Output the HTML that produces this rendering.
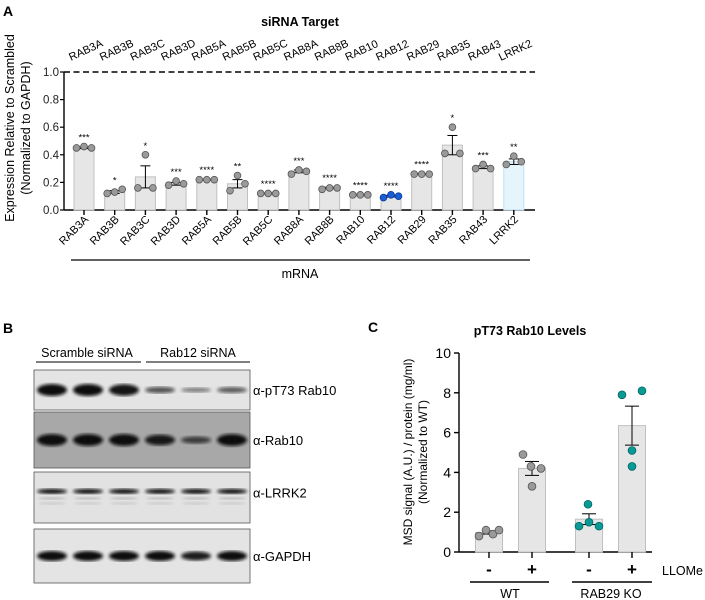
<!DOCTYPE html>
<html><head><meta charset="utf-8"><style>
body{margin:0;background:#fff;}
svg{display:block;font-family:"Liberation Sans",Arial,sans-serif;}
</style></head><body>
<svg id="fig" width="705" height="600" viewBox="0 0 705 600">
<defs>
<filter id="blur1"><feGaussianBlur stdDeviation="1.6"/></filter>
</defs>
<text x="3" y="16" font-size="14" font-weight="bold">A</text>
<text x="300" y="26" font-size="12.5" font-weight="bold" text-anchor="middle">siRNA Target</text>
<text transform="translate(14,128) rotate(-90)" font-size="12.5" text-anchor="middle">Expression Relative to Scrambled</text>
<text transform="translate(30,128) rotate(-90)" font-size="12.5" text-anchor="middle">(Normalized to GAPDH)</text>
<g id="chartA"></g>
<text x="300" y="278" font-size="12.5" text-anchor="middle">mRNA</text>
<line x1="71" y1="260" x2="530" y2="260" stroke="#000" stroke-width="1.2"/>

<text x="3" y="333" font-size="14" font-weight="bold">B</text>
<g id="blot"></g>

<text x="368" y="332" font-size="14" font-weight="bold">C</text>
<text x="530" y="335" font-size="12.5" font-weight="bold" text-anchor="middle">pT73 Rab10 Levels</text>
<text transform="translate(412,452) rotate(-90)" font-size="12" text-anchor="middle">MSD signal (A.U.) / protein (mg/ml)</text>
<text transform="translate(427,452) rotate(-90)" font-size="12" text-anchor="middle">(Normalized to WT)</text>
<g id="chartC"></g>
</svg>
<script>
const NS="http://www.w3.org/2000/svg";
function mk(p,t,a){const e=document.createElementNS(NS,t);for(const k in a)e.setAttribute(k,a[k]);p.appendChild(e);return e;}

// ---- Panel A data ----
const catsA=["RAB3A","RAB3B","RAB3C","RAB3D","RAB5A","RAB5B","RAB5C","RAB8A","RAB8B","RAB10","RAB12","RAB29","RAB35","RAB43","LRRK2"];
const meansA=[0.45,0.13,0.24,0.19,0.22,0.19,0.12,0.28,0.16,0.11,0.10,0.26,0.47,0.31,0.35];
const errA=[0.005,0.01,0.08,0.01,0.003,0.03,0.003,0.01,0.005,0.003,0.006,0.003,0.07,0.01,0.02];
const ptsA=[[0.45,0.46,0.45],[0.12,0.13,0.15],[0.16,0.40,0.16],[0.18,0.21,0.19],[0.22,0.22,0.22],[0.14,0.25,0.19],[0.12,0.12,0.12],[0.26,0.29,0.28],[0.15,0.16,0.16],[0.11,0.11,0.11],[0.09,0.11,0.10],[0.26,0.26,0.26],[0.41,0.60,0.41],[0.30,0.33,0.30],[0.33,0.39,0.35]];
const starsA=["***","*","*","***","****","**","****","***","****","****","****","****","*","***","**"];
const ticksA=[0,0.2,0.4,0.6,0.8,1.0];

const gA=document.getElementById("chartA");
const ax0=64, ay0=210, ay1=72;
const yA=v=>ay0-(ay0-ay1)*v;
const xA=i=>84+i*30.7;
const yax=mk(gA,"line",{x1:ax0,y1:ay1,x2:ax0,y2:ay0,stroke:"#000","stroke-width":1.4});


const xax=mk(gA,"line",{x1:ax0,y1:ay0,x2:535,y2:ay0,stroke:"#000","stroke-width":1.4});


const dl=mk(gA,"line",{x1:ax0,y1:yA(1),x2:535,y2:yA(1),stroke:"#000","stroke-width":1.6,"stroke-dasharray":"6,3.5"});


ticksA.forEach(t=>{
  mk(gA,"line",{x1:ax0-4,y1:yA(t),x2:ax0,y2:yA(t),stroke:"#000","stroke-width":1.2});
  const tx=mk(gA,"text",{x:ax0-5,y:yA(t)+4,"font-size":11.5,"text-anchor":"end",fill:"#222"});
  tx.textContent=t.toFixed(1);
  
  
});
catsA.forEach((c,i)=>{
  const cx=xA(i), isL=c==="LRRK2", isB=c==="RAB12";
  const b=mk(gA,"rect",{x:cx-10,y:yA(meansA[i]),width:20,height:ay0-yA(meansA[i]),fill:isL?"#e6f4fc":"#e6e6e6",stroke:isL?"#bfe1f5":"#c0c0c0","stroke-width":1});
  
  
  const m=meansA[i],e=errA[i];
  mk(gA,"line",{x1:cx,y1:yA(m+e),x2:cx,y2:yA(m-e),stroke:"#000","stroke-width":1});
  mk(gA,"line",{x1:cx-5,y1:yA(m+e),x2:cx+5,y2:yA(m+e),stroke:"#000","stroke-width":1});
  mk(gA,"line",{x1:cx-5,y1:yA(m-e),x2:cx+5,y2:yA(m-e),stroke:"#000","stroke-width":1});
  ptsA[i].forEach((p,j)=>{
    const d=mk(gA,"circle",{cx:cx+(j-1)*7.5,cy:yA(p),r:3.4,fill:isB?"#1a5ed6":"#9a9a9a",stroke:isB?"#0a3a9a":"#555","stroke-width":0.8});
    
    
  });
  const mx=Math.max(m+e,...ptsA[i]);
  const st=mk(gA,"text",{x:cx,y:yA(mx)-6,"font-size":9.5,"text-anchor":"middle"});
  st.textContent=starsA[i];
  
  
  mk(gA,"line",{x1:cx,y1:ay0,x2:cx,y2:ay0+5,stroke:"#000","stroke-width":1.4});
  const bl=mk(gA,"text",{transform:`translate(${cx+5},${ay0+10}) rotate(-45)`,"font-size":11,"text-anchor":"end"});
  bl.textContent=c;
  
  
  const tl=mk(gA,"text",{transform:`translate(${cx-13},${61}) rotate(-25)`,"font-size":11});
  tl.textContent=c;
  
  
});

// ---- Panel B blot ----
const gB=document.getElementById("blot");
const lanesX=[52,88,124,160,196,232];
const blotRows=[
 {name:"α-pT73 Rab10",y:370,h:40,bg:"#e4e4e4",int:[1,1,0.95,0.55,0.35,0.5],bw:6},
 {name:"α-Rab10",y:412,h:56,bg:"#a8a8a8",int:[1,1,1,0.9,0.6,1],bw:6},
 {name:"α-LRRK2",y:472,h:51,bg:"#e2e2e2",int:[1,1,1,1,1,1],bw:2.5},
 {name:"α-GAPDH",y:529,h:54,bg:"#e4e4e4",int:[1,1,1,1,0.9,1],bw:5}
];
let hl=mk(gB,"text",{x:87,y:357,"font-size":12.5,"text-anchor":"middle"});hl.textContent="Scramble siRNA";

hl=mk(gB,"text",{x:198,y:357,"font-size":12.5,"text-anchor":"middle"});hl.textContent="Rab12 siRNA";

mk(gB,"line",{x1:36,y1:362,x2:141,y2:362,stroke:"#000","stroke-width":1});
mk(gB,"line",{x1:146,y1:362,x2:250,y2:362,stroke:"#000","stroke-width":1});
blotRows.forEach(r=>{
  const p=mk(gB,"rect",{x:34,y:r.y,width:216,height:r.h,fill:r.bg,stroke:"#555","stroke-width":0.8});
  
  
  const cy=r.y+r.h*(r.name==="α-LRRK2"?0.38:0.5);
  lanesX.forEach((lx,i)=>{
    const v=r.int[i];
    mk(gB,"ellipse",{cx:lx,cy:cy,rx:15,ry:r.bw*v,fill:"#111","fill-opacity":Math.min(1,0.3+0.7*v),filter:"url(#blur1)"});
    if(r.name==="α-LRRK2"){
      mk(gB,"ellipse",{cx:lx,cy:cy+7,rx:14,ry:1.3,fill:"#888","fill-opacity":0.5,filter:"url(#blur1)"});
      mk(gB,"ellipse",{cx:lx,cy:cy+12,rx:14,ry:1.2,fill:"#999","fill-opacity":0.4,filter:"url(#blur1)"});
    }
  });
  const t=mk(gB,"text",{x:253,y:r.y+r.h/2+(r.name==="α-LRRK2"?0:5),"font-size":13});
  t.textContent=r.name;
  
  
});

// ---- Panel C data ----
const catsC=["WT -","WT +","KO -","KO +"];
const meansC=[0.98,4.2,1.65,6.35];
const errC=[0.08,0.35,0.27,0.98];
const ptsC=[[0.8,1.1,0.9,1.1],[4.9,4.3,3.3,4.2],[1.3,2.4,1.5,1.3],[7.9,5.1,4.3,8.1]];
const ticksC=[0,2,4,6,8,10];
const gC=document.getElementById("chartC");
const cx0=459, cy0=552, cy1=353;
const yC=v=>cy0-(cy0-cy1)*v/10;
const xCs=[489,532,589,632];
const offCfixed=[[-10,-3,4,10],[-9,-1,0,9],[-10,-1,0,10],[-10,0,0,10]];
let ln=mk(gC,"line",{x1:cx0,y1:cy1,x2:cx0,y2:cy0,stroke:"#000","stroke-width":1.4});

ln=mk(gC,"line",{x1:cx0,y1:cy0,x2:652,y2:cy0,stroke:"#000","stroke-width":1.4});

ticksC.forEach(t=>{
  mk(gC,"line",{x1:cx0-5,y1:yC(t),x2:cx0,y2:yC(t),stroke:"#000","stroke-width":1.4});
  const tx=mk(gC,"text",{x:cx0-8,y:yC(t)+5,"font-size":14,"text-anchor":"end"});
  tx.textContent=t;
  
  
});
catsC.forEach((c,i)=>{
  const cx=xCs[i], ko=i>=2;
  const b=mk(gC,"rect",{x:cx-13.5,y:yC(meansC[i]),width:27,height:cy0-yC(meansC[i]),fill:"#e6e6e6",stroke:"#c0c0c0","stroke-width":1});
  
  
  const m=meansC[i],e=errC[i];
  mk(gC,"line",{x1:cx,y1:yC(m+e),x2:cx,y2:yC(m-e),stroke:"#000","stroke-width":1});
  mk(gC,"line",{x1:cx-7,y1:yC(m+e),x2:cx+7,y2:yC(m+e),stroke:"#000","stroke-width":1});
  mk(gC,"line",{x1:cx-7,y1:yC(m-e),x2:cx+7,y2:yC(m-e),stroke:"#000","stroke-width":1});
  ptsC[i].forEach((p,j)=>{
    const d=mk(gC,"circle",{cx:cx+offCfixed[i][j],cy:yC(p),r:3.9,fill:ko?"#0a9a94":"#9a9a9a",stroke:ko?"#066":"#555","stroke-width":0.8});
    
    
  });
  mk(gC,"line",{x1:cx,y1:cy0,x2:cx,y2:cy0+6,stroke:"#000","stroke-width":1.4});
  const s=mk(gC,"text",{x:cx,y:575,"font-size":17,"font-weight":"bold","text-anchor":"middle"});
  s.textContent=i%2?"+":"-";
  
  
});
mk(gC,"line",{x1:470,y1:582,x2:549,y2:582,stroke:"#000","stroke-width":1.4});
mk(gC,"line",{x1:572,y1:582,x2:652,y2:582,stroke:"#000","stroke-width":1.4});
let t=mk(gC,"text",{x:510,y:598,"font-size":12.5,"text-anchor":"middle"});t.textContent="WT";

t=mk(gC,"text",{x:611,y:598,"font-size":12.5,"text-anchor":"middle"});t.textContent="RAB29 KO";

t=mk(gC,"text",{x:662,y:575,"font-size":12.5});t.textContent="LLOMe";

</script>
</body></html>
